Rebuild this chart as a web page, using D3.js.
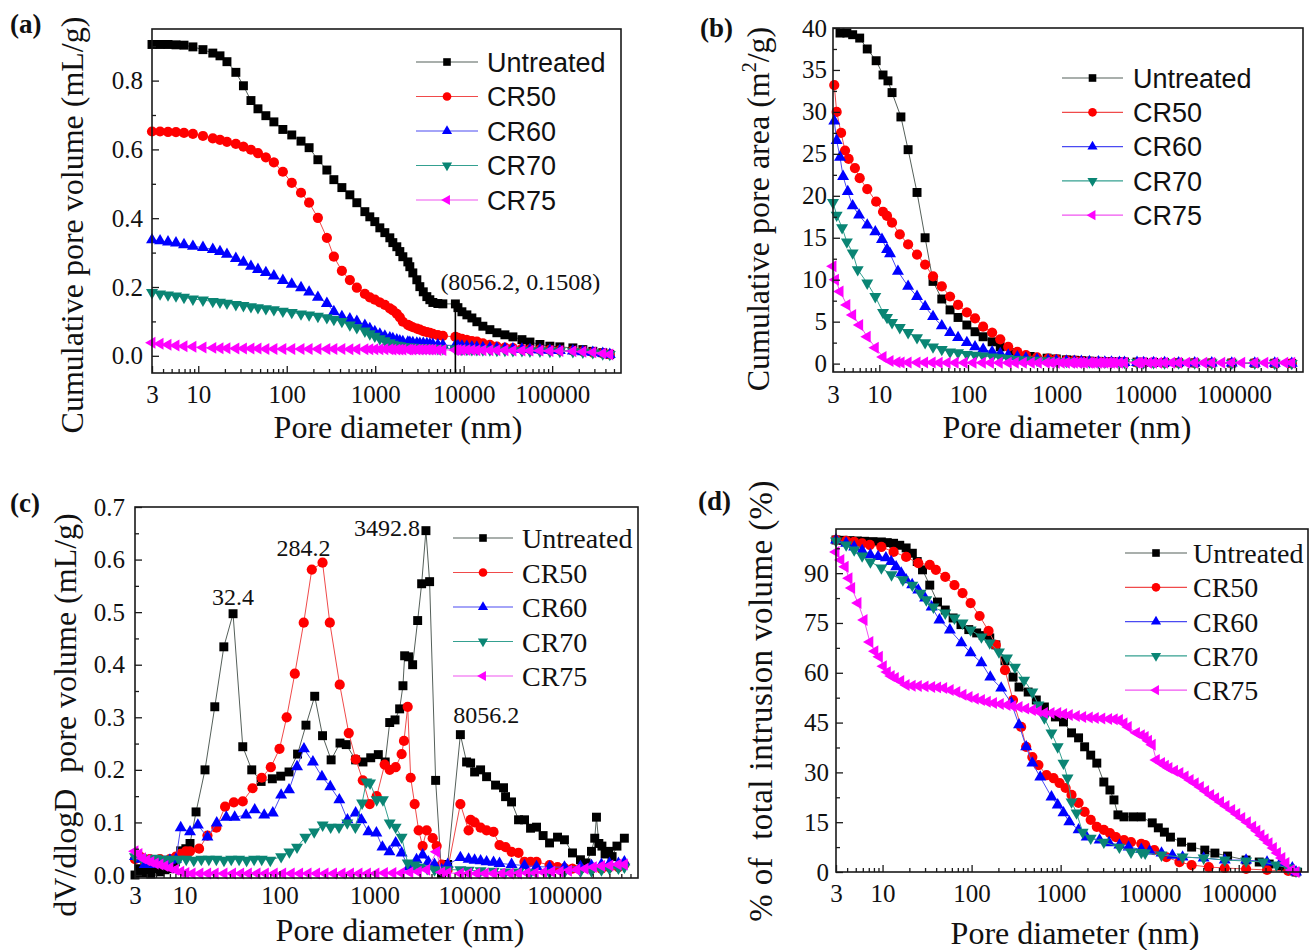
<!DOCTYPE html>
<html>
<head>
<meta charset="utf-8">
<script src="https://cdn.jsdelivr.net/npm/d3@7"></script>
<style>
  html, body { margin: 0; padding: 0; background: #fff; }
  svg { display: block; }
</style>
</head>
<body>
<svg id="fig" width="1312" height="950"></svg>
<script>
// ---------------------------------------------------------------------------
// Shared categories and axis labels
// ---------------------------------------------------------------------------
const SERIES_NAMES = ["Untreated", "CR50", "CR60", "CR70", "CR75"];
const X_TICKS = [3, 10, 100, 1000, 10000, 100000];
const X_TICK_LABELS = ["3", "10", "100", "1000", "10000", "100000"];

// ---------------------------------------------------------------------------
// (a) Cumulative pore volume (mL/g) at each measured pore diameter (nm)
// ---------------------------------------------------------------------------
const DIAM_A = [3.0, 3.7, 4.55, 5.6, 6.9, 8.7, 11.3, 14.6, 17.6, 21.1, 26.6, 32.4, 39.4, 47.3, 58.1, 71.6,
  90.4, 114, 145, 179, 225, 284.2, 341, 420, 517, 620, 764, 869, 990, 1128, 1285, 1463, 1582, 1755,
  1898, 2053, 2338, 2462, 2662, 2955, 3196, 3492.8, 3833, 4146, 4483, 5106, 5817, 8056.2, 8610, 9550,
  10870, 12380, 14100, 16480, 19780, 23730, 29250, 36020, 45560, 56110, 72750, 94290, 122200, 171500,
  222300, 288100, 373400, 448000];
const VOL_UNTREATED = [0.905, 0.905, 0.905, 0.904, 0.903, 0.898, 0.89, 0.88, 0.872, 0.855,
  0.824, 0.785, 0.742, 0.718, 0.698, 0.68, 0.658, 0.642, 0.624, 0.605,
  0.57, 0.54, 0.512, 0.489, 0.468, 0.445, 0.419, 0.404, 0.39, 0.372,
  0.358, 0.343, 0.329, 0.317, 0.303, 0.288, 0.273, 0.259, 0.241, 0.221,
  0.201, 0.186, 0.172, 0.163, 0.155, 0.152, 0.151, 0.1508, 0.14, 0.128,
  0.119, 0.11, 0.099, 0.086, 0.076, 0.067, 0.061, 0.055, 0.047, 0.04,
  0.033, 0.028, 0.026, 0.023, 0.018, 0.013, 0.009, 0.004];
const VOL_CR50 = [0.652, 0.652, 0.651, 0.65, 0.648, 0.645, 0.639, 0.632, 0.628, 0.622,
  0.616, 0.608, 0.599, 0.589, 0.577, 0.562, 0.535, 0.503, 0.474, 0.445,
  0.401, 0.343, 0.288, 0.247, 0.22, 0.198, 0.18, 0.17, 0.163, 0.155,
  0.148, 0.138, 0.132, 0.122, 0.112, 0.099, 0.09, 0.087, 0.083, 0.079,
  0.076, 0.072, 0.069, 0.067, 0.064, 0.06, 0.058, 0.055, 0.052, 0.049,
  0.046, 0.043, 0.041, 0.036, 0.032, 0.027, 0.024, 0.022, 0.02, 0.019,
  0.018, 0.017, 0.016, 0.015, 0.013, 0.01, 0.007, 0.004];
const VOL_CR60 = [0.337, 0.334, 0.331, 0.328, 0.323, 0.318, 0.315, 0.309, 0.303, 0.295,
  0.283, 0.272, 0.26, 0.251, 0.242, 0.232, 0.219, 0.208, 0.198, 0.185,
  0.17, 0.152, 0.128, 0.114, 0.107, 0.1, 0.088, 0.079, 0.07, 0.063,
  0.057, 0.052, 0.05, 0.046, 0.043, 0.041, 0.04, 0.039, 0.038, 0.037,
  0.036, 0.036, 0.035, 0.034, 0.033, 0.032, 0.031, 0.03, 0.029, 0.028,
  0.027, 0.026, 0.025, 0.024, 0.023, 0.022, 0.021, 0.02, 0.019, 0.018,
  0.017, 0.016, 0.015, 0.014, 0.012, 0.01, 0.007, 0.004];
const VOL_CR70 = [0.184, 0.18, 0.177, 0.174, 0.17, 0.165, 0.162, 0.158, 0.156, 0.153,
  0.149, 0.146, 0.143, 0.14, 0.137, 0.134, 0.13, 0.126, 0.122, 0.119,
  0.115, 0.111, 0.106, 0.1, 0.09, 0.082, 0.072, 0.064, 0.057, 0.05,
  0.044, 0.038, 0.034, 0.031, 0.029, 0.027, 0.026, 0.025, 0.025, 0.024,
  0.024, 0.023, 0.023, 0.022, 0.022, 0.021, 0.021, 0.02, 0.02, 0.019,
  0.019, 0.018, 0.018, 0.017, 0.017, 0.016, 0.016, 0.015, 0.015, 0.014,
  0.014, 0.013, 0.013, 0.012, 0.011, 0.009, 0.006, 0.004];
const VOL_CR75 = [0.038, 0.035, 0.032, 0.03, 0.028, 0.026, 0.024, 0.023, 0.022, 0.022,
  0.021, 0.021, 0.021, 0.021, 0.02, 0.02, 0.02, 0.02, 0.02, 0.02,
  0.02, 0.02, 0.02, 0.02, 0.019, 0.019, 0.019, 0.019, 0.019, 0.019,
  0.019, 0.019, 0.018, 0.018, 0.018, 0.018, 0.018, 0.018, 0.018, 0.018,
  0.018, 0.018, 0.018, 0.018, 0.018, 0.017, 0.017, 0.017, 0.017, 0.017,
  0.017, 0.017, 0.016, 0.016, 0.016, 0.016, 0.016, 0.015, 0.015, 0.015,
  0.015, 0.014, 0.014, 0.013, 0.012, 0.01, 0.007, 0.004];
const VOL_MARK = [8056.2, 0.1508];

// ---------------------------------------------------------------------------
// (b) Cumulative pore area (m2/g): [diameter nm, area]
// ---------------------------------------------------------------------------
const AREA_UNTREATED = [[3.6, 39.4], [4.3, 39.4], [5.0, 39.2], [6.0, 38.8], [7.3, 37.5], [9.2, 36.1], [11.0, 34.4],
  [12.5, 33.7], [13.9, 32.3], [17.5, 29.4], [21.1, 25.5], [26.6, 20.4], [32.8, 15.0], [40.3, 9.8], [50.6, 7.7],
  [62.7, 6.4], [77.2, 5.5], [97, 4.6], [120, 3.8], [148, 3.2], [187, 2.6], [231, 2.0], [324, 1.3], [503, 0.85],
  [780, 0.65], [990, 0.55], [1285, 0.45], [1582, 0.4], [1898, 0.35], [2338, 0.3], [2955, 0.27], [3492.8, 0.25],
  [4146, 0.22], [5106, 0.2], [5817, 0.19], [8056.2, 0.18], [9550, 0.16], [12380, 0.14], [16480, 0.12],
  [23730, 0.1], [36020, 0.09], [56110, 0.08], [94290, 0.07], [171500, 0.05], [288100, 0.04], [448000, 0.03]];
const AREA_CR50 = [[3.1, 33.2], [3.3, 30.0], [3.7, 27.5], [4.1, 25.4], [4.5, 24.4], [5.3, 23.3], [6.0, 22.1],
  [7.3, 20.8], [9.2, 19.3], [11.0, 18.1], [12.2, 17.6], [13.9, 16.8], [17.0, 15.4], [21.1, 14.2], [26.6, 13.0],
  [32.8, 11.8], [40.3, 10.4], [50.6, 9.2], [62.7, 8.0], [77.2, 7.0], [97, 6.1], [120, 5.4], [148, 4.4],
  [187, 3.7], [231, 2.9], [284, 2.0], [360, 1.4], [450, 1.0], [600, 0.75], [800, 0.6], [990, 0.5], [1285, 0.4],
  [1582, 0.35], [1898, 0.3], [2338, 0.25], [2955, 0.2], [3492.8, 0.18], [4146, 0.16], [5106, 0.15], [5817, 0.14],
  [8056.2, 0.13], [9550, 0.12], [12380, 0.11], [16480, 0.1], [23730, 0.09], [36020, 0.08], [56110, 0.07],
  [94290, 0.06], [171500, 0.05], [288100, 0.04], [448000, 0.03]];
const AREA_CR60 = [[3.1, 28.9], [3.3, 26.6], [3.6, 24.6], [3.9, 22.3], [4.4, 20.5], [5.0, 18.8], [5.9, 17.7],
  [7.3, 16.5], [9.0, 15.7], [10.7, 14.8], [12.2, 13.6], [13.2, 13.1], [16.2, 11.0], [21.1, 9.2], [26.6, 8.0],
  [32.8, 6.8], [40.3, 5.6], [50.6, 4.5], [62.7, 3.7], [77.2, 3.1], [97, 2.5], [120, 2.0], [148, 1.7], [187, 1.4],
  [231, 1.2], [284, 1.0], [360, 0.8], [450, 0.65], [600, 0.5], [800, 0.4], [990, 0.35], [1285, 0.3], [1582, 0.27],
  [1898, 0.25], [2338, 0.22], [2955, 0.2], [3492.8, 0.18], [4146, 0.16], [5106, 0.15], [5817, 0.14],
  [8056.2, 0.13], [9550, 0.12], [12380, 0.11], [16480, 0.1], [23730, 0.09], [36020, 0.08], [56110, 0.07],
  [94290, 0.06], [171500, 0.05], [288100, 0.04], [448000, 0.03]];
const AREA_CR70 = [[3.0, 19.2], [3.3, 17.7], [3.8, 16.2], [4.3, 14.5], [5.0, 13.2], [5.7, 11.2], [7.3, 9.6],
  [9.0, 8.0], [11.0, 6.1], [12.2, 5.5], [13.9, 4.9], [17.0, 4.3], [21.1, 3.7], [26.6, 3.1], [32.8, 2.5],
  [40.3, 2.0], [50.6, 1.7], [62.7, 1.4], [77.2, 1.3], [97, 1.1], [120, 1.0], [148, 0.9], [187, 0.8], [231, 0.7],
  [284, 0.6], [360, 0.5], [450, 0.45], [600, 0.4], [800, 0.35], [990, 0.3], [1285, 0.27], [1582, 0.25],
  [1898, 0.22], [2338, 0.2], [2955, 0.18], [3492.8, 0.17], [4146, 0.16], [5106, 0.15], [5817, 0.14],
  [8056.2, 0.13], [9550, 0.12], [12380, 0.11], [16480, 0.1], [23730, 0.09], [36020, 0.08], [56110, 0.07],
  [94290, 0.06], [171500, 0.05], [288100, 0.04], [448000, 0.03]];
const AREA_CR75 = [[3.0, 11.6], [3.2, 10.0], [3.6, 8.6], [4.3, 7.0], [5.0, 5.8], [6.0, 4.6], [7.3, 3.2],
  [9.0, 1.9], [11.0, 0.8], [13.2, 0.3], [15.8, 0.15], [17.6, 0.12], [21.1, 0.12], [26.6, 0.12], [32.4, 0.12],
  [39.4, 0.12], [47.3, 0.11], [58.1, 0.11], [71.6, 0.11], [90.4, 0.11], [114, 0.11], [145, 0.11], [179, 0.11],
  [225, 0.11], [284.2, 0.11], [341, 0.11], [420, 0.1], [517, 0.1], [620, 0.1], [764, 0.1], [869, 0.1],
  [990, 0.1], [1128, 0.1], [1285, 0.1], [1463, 0.1], [1582, 0.1], [1755, 0.1], [1898, 0.1], [2053, 0.1],
  [2338, 0.1], [2462, 0.1], [2662, 0.1], [2955, 0.1], [3196, 0.1], [3492.8, 0.1], [3833, 0.1], [4146, 0.1],
  [4483, 0.1], [5106, 0.1], [5817, 0.1], [8056.2, 0.1], [8610, 0.1], [9550, 0.1], [10870, 0.1], [12380, 0.1],
  [14100, 0.1], [16480, 0.1], [19780, 0.1], [23730, 0.1], [29250, 0.1], [36020, 0.1], [45560, 0.1],
  [56110, 0.1], [72750, 0.1], [94290, 0.1], [122200, 0.1], [171500, 0.1], [222300, 0.1], [288100, 0.1],
  [373400, 0.1], [448000, 0.1]];

// ---------------------------------------------------------------------------
// (c) dV/dlogD pore volume (mL/g): [diameter nm, value]
// ---------------------------------------------------------------------------
const DVD_UNTREATED = [[3.0, 0.0], [3.3, 0.012], [3.6, 0.004], [4.0, 0.01], [4.4, 0.002], [4.9, 0.012],
  [5.5, 0.006], [6.2, 0.01], [7.0, 0.012], [8.0, 0.025], [9.1, 0.046], [10.3, 0.05], [11.4, 0.06], [13.2, 0.12],
  [16.4, 0.2], [20.8, 0.32], [25.9, 0.434], [32.4, 0.497], [41, 0.244], [51, 0.2], [64, 0.178], [84, 0.183],
  [103, 0.188], [126, 0.196], [155, 0.23], [190, 0.285], [235, 0.34], [284.2, 0.265], [350, 0.219],
  [434, 0.251], [505, 0.248], [634, 0.219], [758, 0.215], [915, 0.223], [1100, 0.229], [1300, 0.215],
  [1450, 0.29], [1650, 0.295], [1846, 0.316], [2000, 0.36], [2084, 0.417], [2300, 0.415], [2530, 0.4],
  [2858, 0.484], [3148, 0.554], [3492.8, 0.655], [3819, 0.558], [4420, 0.18], [5100, 0.003], [5916, 0.02],
  [8056.2, 0.267], [9370, 0.215], [10330, 0.213], [11380, 0.196], [13160, 0.2], [15220, 0.187],
  [18920, 0.171], [22970, 0.166], [24120, 0.149], [27900, 0.139], [33050, 0.105], [38200, 0.105],
  [44230, 0.089], [51150, 0.091], [60000, 0.075], [70150, 0.061], [85100, 0.072], [100700, 0.067],
  [122400, 0.042], [148500, 0.029], [170000, 0.023], [194000, 0.045], [210000, 0.07], [219000, 0.11],
  [232000, 0.06], [250000, 0.055], [270000, 0.04], [295000, 0.045], [320000, 0.035], [360000, 0.055],
  [431000, 0.07]];
const DVD_CR50 = [[3.0, 0.03], [3.4, 0.035], [3.8, 0.025], [4.3, 0.03], [4.9, 0.028], [5.5, 0.03],
  [6.2, 0.025], [7.0, 0.03], [8.1, 0.035], [9.1, 0.04], [10.3, 0.045], [11.4, 0.045], [14.2, 0.05],
  [17.4, 0.075], [21.6, 0.09], [26.7, 0.13], [33, 0.138], [41, 0.14], [52, 0.165], [65, 0.185], [81, 0.205],
  [100, 0.24], [119, 0.3], [145, 0.383], [180, 0.48], [219, 0.581], [284.2, 0.594], [339, 0.48], [431, 0.362],
  [537, 0.27], [636, 0.22], [755, 0.18], [893, 0.135], [1057, 0.15], [1283, 0.21], [1449, 0.2], [1675, 0.205],
  [1937, 0.23], [2050, 0.255], [2243, 0.32], [2412, 0.185], [2657, 0.135], [2929, 0.085], [3226, 0.055],
  [3557, 0.085], [4113, 0.07], [4532, 0.055], [5119, 0.02], [5916, 0.01], [8056.2, 0.135], [9840, 0.085],
  [10330, 0.105], [11380, 0.1], [13160, 0.09], [15220, 0.085], [18020, 0.082], [20830, 0.057],
  [24120, 0.053], [27900, 0.044], [33050, 0.042], [38200, 0.025], [44230, 0.025], [51150, 0.025],
  [70150, 0.019], [85100, 0.015], [100700, 0.013], [122400, 0.012], [148500, 0.012], [194000, 0.012],
  [247000, 0.012], [300000, 0.015], [373000, 0.015], [431000, 0.02]];
const DVD_CR60 = [[3.0, 0.035], [3.4, 0.03], [3.8, 0.02], [4.3, 0.025], [4.9, 0.02], [5.5, 0.02],
  [6.2, 0.025], [7.0, 0.028], [8.1, 0.03], [9.1, 0.09], [11.4, 0.082], [13.8, 0.095], [17.4, 0.072],
  [21.8, 0.099], [27.5, 0.11], [33.7, 0.11], [44.4, 0.114], [54.8, 0.124], [69, 0.114], [85, 0.118],
  [104, 0.152], [126, 0.162], [153, 0.206], [181, 0.24], [225, 0.215], [280, 0.187], [343, 0.168],
  [427, 0.143], [520, 0.105], [634, 0.118], [730, 0.105], [865, 0.082], [1050, 0.08], [1215, 0.053],
  [1440, 0.044], [1675, 0.061], [1937, 0.042], [2300, 0.015], [2780, 0.029], [3226, 0.038], [3700, 0.025],
  [4300, 0.02], [5119, 0.01], [5916, 0.02], [8056.2, 0.033], [9840, 0.03], [11380, 0.028], [13160, 0.027],
  [15220, 0.025], [18020, 0.024], [20830, 0.022], [27900, 0.02], [38200, 0.018], [51150, 0.016],
  [70150, 0.015], [100700, 0.015], [148500, 0.016], [194000, 0.018], [247000, 0.02], [300000, 0.022],
  [373000, 0.022], [431000, 0.025]];
const DVD_CR70 = [[3.0, 0.035], [3.5, 0.033], [4.2, 0.03], [5.0, 0.032], [6.0, 0.03], [7.2, 0.03],
  [8.7, 0.03], [10.4, 0.03], [12.5, 0.028], [15, 0.03], [18, 0.03], [21.6, 0.03], [26, 0.028], [31, 0.03],
  [37.5, 0.03], [45, 0.028], [54, 0.03], [65, 0.03], [80, 0.028], [104, 0.035], [127, 0.044], [153, 0.053],
  [187, 0.072], [232, 0.082], [285, 0.095], [346, 0.091], [424, 0.091], [518, 0.099], [630, 0.091],
  [742, 0.137], [822, 0.177], [900, 0.175], [1057, 0.143], [1230, 0.143], [1449, 0.099], [1675, 0.091],
  [1937, 0.072], [2243, 0.023], [2657, 0.019], [3000, 0.015], [3600, 0.012], [4300, 0.01], [5119, 0.008],
  [5916, 0.01], [8056.2, 0.01], [9840, 0.009], [13160, 0.008], [18020, 0.007], [24120, 0.006],
  [33050, 0.006], [44230, 0.005], [70150, 0.005], [100700, 0.006], [148500, 0.007], [194000, 0.008],
  [247000, 0.01], [300000, 0.012], [373000, 0.013], [431000, 0.015]];
const DVD_CR75 = [[3.0, 0.045], [3.3, 0.04], [3.6, 0.032], [4.0, 0.028], [4.4, 0.025], [4.9, 0.022],
  [5.5, 0.02], [6.2, 0.017], [7.0, 0.014], [8.0, 0.01], [9.1, 0.006], [10.3, 0.004], [12, 0.003], [14.5, 0.003],
  [17.5, 0.003], [21, 0.003], [26, 0.003], [32, 0.003], [39, 0.003], [47, 0.003], [58, 0.003], [71, 0.003],
  [88, 0.003], [108, 0.003], [133, 0.003], [163, 0.003], [200, 0.003], [246, 0.003], [302, 0.003],
  [371, 0.003], [456, 0.003], [560, 0.003], [688, 0.003], [845, 0.003], [1038, 0.003], [1275, 0.004],
  [1566, 0.004], [1923, 0.004], [2362, 0.005], [2900, 0.006], [3560, 0.01], [4530, 0.044], [5119, 0.005],
  [5916, 0.004], [8056.2, 0.003], [9840, 0.003], [12000, 0.003], [14700, 0.003], [18000, 0.003],
  [22000, 0.003], [27000, 0.003], [33000, 0.003], [40500, 0.004], [49500, 0.004], [60500, 0.005],
  [74000, 0.006], [90500, 0.006], [111000, 0.008], [136000, 0.01], [166000, 0.012], [203000, 0.015],
  [248000, 0.017], [303000, 0.018], [371000, 0.02], [431000, 0.02]];
const DVD_LABELS = [
  { text: "32.4", d: 32.4, v: 0.497, dx: 0, dy: -9, anchor: "middle" },
  { text: "284.2", d: 284.2, v: 0.594, dx: -19, dy: -7, anchor: "middle" },
  { text: "3492.8", d: 3492.8, v: 0.655, dx: -6, dy: 5, anchor: "end" },
  { text: "8056.2", d: 8056.2, v: 0.267, dx: 26, dy: -12, anchor: "middle" }
];

// ---------------------------------------------------------------------------
// (d) % of total intrusion volume: [diameter nm, percent]
// ---------------------------------------------------------------------------
const PCT_UNTREATED = [[3.0, 100], [3.6, 99.9], [4.3, 99.8], [5.2, 99.7], [6.3, 99.6], [7.8, 99.5],
  [9.7, 99.4], [11.3, 99.2], [13.3, 99.0], [15.6, 98.4], [18.4, 97.6], [21.6, 96.0], [24.5, 93.5],
  [28.1, 91.0], [33.9, 86.4], [41.4, 81.3], [50.6, 78.9], [62, 76.5], [76, 74.5], [93, 73.0], [114, 72.0],
  [135, 71.2], [160, 70.5], [187, 68.4], [237, 63.6], [292, 58.7], [341, 55.7], [432, 54.2], [533, 51.8],
  [657, 49.7], [873, 46.7], [1076, 45.2], [1326, 41.9], [1590, 40.4], [1860, 37.7], [2177, 35.2],
  [2548, 32.8], [3056, 27.1], [3580, 24.7], [3970, 21.7], [4400, 17.2], [5150, 16.6], [6530, 16.6],
  [8056.2, 16.6], [10690, 14.8], [12500, 13.3], [14630, 12.0], [17120, 10.5], [22800, 9.0], [29600, 7.5],
  [41600, 6.6], [54000, 5.7], [75000, 4.8], [121000, 3.6], [170000, 3.0], [220000, 2.4], [290000, 1.6],
  [370000, 0.8], [440000, 0.0]];
const PCT_CR50 = [[3.0, 100], [3.9, 99.7], [4.8, 99.4], [5.9, 99.0], [7.2, 98.5], [9.7, 97.9], [13.3, 96.4],
  [18.4, 94.9], [25.2, 93], [33.9, 92.5], [39.7, 91], [50.6, 88.9], [64.2, 86.4], [79.1, 84], [97.5, 81],
  [123, 77.1], [155, 72.6], [187, 68.4], [237, 60.8], [292, 51.8], [360, 43.7], [410, 37.7], [481, 34.6],
  [563, 32.2], [694, 29.2], [832, 28.3], [973, 26.8], [1138, 25.3], [1326, 23.2], [1590, 20.8], [1860, 18.1],
  [2177, 15.7], [2548, 13.6], [3056, 12.7], [3580, 11.7], [4180, 10.5], [5150, 9.6], [6170, 9.0],
  [8056.2, 8.5], [8900, 8.1], [11270, 6.6], [15400, 4.5], [21600, 3.0], [29600, 2.1], [46100, 1.5],
  [69700, 1.2], [121000, 0.9], [208000, 0.6], [360000, 0.3], [440000, 0.0]];
const PCT_CR60 = [[3.0, 100], [3.9, 99], [4.8, 97.9], [5.9, 96.8], [7.3, 95.5], [8.9, 95], [10.9, 94.6],
  [12.5, 93.5], [14.2, 91.9], [16.2, 90], [18.4, 88], [21.5, 86.5], [25.2, 84.9], [30, 82.5], [35.6, 79.8],
  [43.5, 75.9], [57, 72.9], [76.8, 69], [97.5, 66], [129, 63], [162, 58.7], [215, 55.4], [279, 50.9],
  [341, 44.3], [410, 37.7], [481, 32.8], [590, 28.6], [789, 22.6], [927, 20.2], [1076, 17.8], [1251, 15.1],
  [1590, 12.7], [1960, 10.5], [2740, 9.6], [3500, 8.8], [4570, 8.1], [5800, 7.5], [8056.2, 6.8],
  [10000, 6.3], [13580, 5.7], [18000, 5.0], [23410, 4.5], [40350, 4.2], [69700, 3.6], [121000, 3.6],
  [208000, 3.0], [293000, 2.7], [400000, 1.2], [440000, 0]];
const PCT_CR70 = [[3.0, 99.7], [3.9, 98.5], [4.8, 97], [5.9, 95.2], [7.3, 93.4], [9.7, 91.6], [12.6, 89.5],
  [16.9, 88], [21.6, 86.4], [26.7, 84], [31, 82], [37.3, 79.8], [50.6, 78], [64.2, 76.5], [79.1, 75],
  [97.5, 72.9], [129, 70.8], [160, 69], [203, 66.3], [250, 64.5], [307, 61.7], [389, 57.8], [481, 54.2],
  [563, 50.3], [657, 46.4], [789, 41.9], [927, 37.7], [1076, 32.8], [1196, 28.3], [1326, 21.1], [1510, 17.8],
  [1768, 12.0], [2177, 10.2], [3056, 9.0], [4570, 7.5], [6170, 6.0], [8056.2, 5.9], [8900, 5.7],
  [13580, 5.1], [23410, 4.5], [40350, 4.2], [69700, 3.6], [121000, 3.3], [188000, 3.0], [265000, 2.1],
  [360000, 1.2], [440000, 0.3]];
const PCT_CR75 = [[3.0, 96.4], [3.4, 94], [3.8, 91.9], [4.2, 88.5], [4.5, 85.5], [5.3, 81], [6.2, 75.9],
  [7.2, 69.3], [8.2, 66.5], [9.2, 64.8], [10.2, 62], [11.3, 60.2], [12.5, 59], [13.9, 58.4], [16, 57.5],
  [18.4, 56.3], [21.5, 56.1], [25.2, 56], [30, 55.9], [35.6, 55.7], [41.5, 55.6], [48.6, 55.4], [57.5, 54.8],
  [68.2, 54.2], [80, 53.4], [93.6, 52.7], [110, 52.2], [129, 51.8], [150, 51.3], [176, 50.9], [210, 50.6],
  [250, 50.3], [290, 50], [341, 49.7], [405, 49.2], [481, 48.8], [560, 48.4], [657, 47.9], [780, 47.9],
  [927, 47.9], [1080, 47.6], [1251, 47.3], [1500, 47], [1768, 46.7], [2100, 46.5], [2450, 46.4],
  [2900, 46.2], [3460, 46.1], [4000, 46], [4570, 45.8], [5150, 44.8], [5740, 43.7], [7100, 41.9],
  [8056.2, 41.2], [8900, 40.7], [9700, 39.5], [10690, 38.3], [11860, 33.7], [13580, 32.8], [15000, 32],
  [16450, 31.3], [19000, 30.5], [21830, 29.8], [25000, 28.8], [28460, 27.7], [32500, 26.7], [37100, 25.6],
  [42500, 24.4], [48440, 23.2], [55000, 22.2], [62520, 21.1], [72000, 19.9], [83310, 18.7], [95000, 17.5],
  [108100, 16.3], [125000, 15.0], [143500, 13.6], [160000, 12.4], [178000, 11.1], [198000, 9.9],
  [219000, 8.7], [245000, 7.2], [272000, 5.7], [305000, 4.2], [339000, 2.7], [392000, 0.6], [440000, 0]];

// ---------------------------------------------------------------------------
// Styling
// ---------------------------------------------------------------------------
const SERIF = "'Liberation Serif','Times New Roman',Times,serif";
const SANS = "'Liberation Sans',Arial,Helvetica,sans-serif";
const STYLE = {
  Untreated: { shape: "square", fill: "#000000", line: "#55605a" },
  CR50: { shape: "circle", fill: "#ff0000", line: "#f04a4a" },
  CR60: { shape: "up", fill: "#0000ff", line: "#4a4af2" },
  CR70: { shape: "down", fill: "#0a8574", line: "#34a090" },
  CR75: { shape: "left", fill: "#ff00ff", line: "#f055f0" }
};
const ROTATE = { square: 0, circle: 0, up: 0, down: 180, left: -90 };

function markerPath(shape, k) {
  if (shape === "square") return d3.symbol(d3.symbolSquare, 80 * k * k)();
  if (shape === "circle") return d3.symbol(d3.symbolCircle, 82 * k * k)();
  return d3.symbol(d3.symbolTriangle, 62 * k * k)();
}

const pairs = (xs, ys) => xs.map((d, i) => [d, ys[i]]);

// minor log ticks (2..9 per decade) between 3 and 600000
const X_MINOR = [];
[1, 10, 100, 1000, 10000, 100000].forEach(dec => {
  for (let m = 2; m <= 9; m++) {
    const v = m * dec;
    if (v > 3 && v < 600000) X_MINOR.push(v);
  }
});

const svg = d3.select("#fig");
svg.append("rect").attr("width", 1312).attr("height", 950).attr("fill", "#fff");

const PANELS = [
  {
    tag: "(a)", tagX: 10, tagY: 33,
    left: 152, top: 29, right: 621, bottom: 373,
    yDomain: [-0.05, 0.95], yMajor: [0, 0.2, 0.4, 0.6, 0.8], yMinor: [0.1, 0.3, 0.5, 0.7, 0.9],
    yFmt: d3.format(".1f"), xPad: 12, yPad: 9,
    xTitle: { text: "Pore diameter (nm)", x: 398, y: 438 },
    yTitle: { parts: [["Cumulative pore volume (mL/g)"]], x: 83, y: 225, size: 32 },
    legend: { font: SANS, size: 27, x1: 416, x2: 478, tx: 487, y0: 62, dy: 34.5 },
    series: [pairs(DIAM_A, VOL_UNTREATED), pairs(DIAM_A, VOL_CR50), pairs(DIAM_A, VOL_CR60),
             pairs(DIAM_A, VOL_CR70), pairs(DIAM_A, VOL_CR75)],
    extra: "mark"
  },
  {
    tag: "(b)", tagX: 700, tagY: 37,
    left: 833, top: 28, right: 1303, bottom: 372,
    yDomain: [-1, 40], yMajor: [0, 5, 10, 15, 20, 25, 30, 35, 40], yMinor: [2.5, 7.5, 12.5, 17.5, 22.5, 27.5, 32.5, 37.5],
    yFmt: d3.format("d"), xPad: 13, yPad: 6,
    xTitle: { text: "Pore diameter (nm)", x: 1067, y: 438 },
    yTitle: { parts: "area", x: 769, y: 209, size: 32 },
    legend: { font: SANS, size: 27, x1: 1062, x2: 1123, tx: 1133, y0: 78, dy: 34.3 },
    series: [AREA_UNTREATED, AREA_CR50, AREA_CR60, AREA_CR70, AREA_CR75]
  },
  {
    tag: "(c)", tagX: 10, tagY: 512,
    left: 135, top: 507, right: 638, bottom: 878,
    yDomain: [-0.0057, 0.7], yMajor: [0, 0.1, 0.2, 0.3, 0.4, 0.5, 0.6, 0.7], yMinor: [0.05, 0.15, 0.25, 0.35, 0.45, 0.55, 0.65],
    yFmt: d3.format(".1f"), xPad: 8, yPad: 10,
    xTitle: { text: "Pore diameter (nm)", x: 400, y: 941 },
    yTitle: { parts: [["dV/dlogD\u00a0\u00a0pore volume (mL/g)"]], x: 76, y: 715, size: 32 },
    legend: { font: SERIF, size: 28, x1: 453, x2: 513, tx: 522, y0: 538, dy: 34.5 },
    series: [DVD_UNTREATED, DVD_CR50, DVD_CR60, DVD_CR70, DVD_CR75],
    extra: "peaks"
  },
  {
    tag: "(d)", tagX: 698, tagY: 510,
    left: 836, top: 529, right: 1308, bottom: 872,
    yDomain: [0, 103.3], yMajor: [0, 15, 30, 45, 60, 75, 90], yMinor: [7.5, 22.5, 37.5, 52.5, 67.5, 82.5, 97.5],
    yFmt: d3.format("d"), xPad: 12, yPad: 7,
    xTitle: { text: "Pore diameter (nm)", x: 1075, y: 944 },
    yTitle: { parts: [["% of  total intrusion volume (%)"]], x: 772, y: 701, size: 33, spacing: 0.4 },
    legend: { font: SERIF, size: 28, x1: 1125, x2: 1187, tx: 1193, y0: 553, dy: 34.3 },
    series: [PCT_UNTREATED, PCT_CR50, PCT_CR60, PCT_CR70, PCT_CR75]
  }
];

function drawPanel(p) {
  const x = d3.scaleLog().domain([3, 600000]).range([p.left, p.right]);
  const y = d3.scaleLinear().domain(p.yDomain).range([p.bottom, p.top]);
  const g = svg.append("g");

  // data: connecting line then markers, series by series
  p.series.forEach((data, i) => {
    const st = STYLE[SERIES_NAMES[i]];
    g.append("path")
      .datum(data)
      .attr("d", d3.line().x(d => x(d[0])).y(d => y(d[1])))
      .attr("fill", "none")
      .attr("stroke", st.line)
      .attr("stroke-width", 1);
    g.append("g").selectAll("path")
      .data(data)
      .join("path")
      .attr("d", markerPath(st.shape, 1))
      .attr("transform", d => `translate(${x(d[0])},${y(d[1])}) rotate(${ROTATE[st.shape]})`)
      .attr("fill", st.fill);
  });

  // axes (ticks pointing inward)
  const styleAxis = sel => {
    sel.select(".domain").remove();
    sel.selectAll("line").attr("stroke", "#1a1a1a").attr("stroke-width", 1.3);
    sel.selectAll("text").attr("font-family", SERIF).attr("font-size", 25).attr("fill", "#111");
  };
  g.append("g").attr("transform", `translate(0,${p.bottom})`)
    .call(d3.axisBottom(x).tickValues(X_TICKS).tickFormat((d, i) => X_TICK_LABELS[i]).tickSize(-7).tickPadding(p.xPad))
    .call(styleAxis);
  g.append("g").attr("transform", `translate(0,${p.bottom})`)
    .call(d3.axisBottom(x).tickValues(X_MINOR).tickFormat("").tickSize(-4))
    .call(styleAxis);
  g.append("g").attr("transform", `translate(${p.left},0)`)
    .call(d3.axisLeft(y).tickValues(p.yMajor).tickFormat(p.yFmt).tickSize(-7).tickPadding(p.yPad))
    .call(styleAxis);
  g.append("g").attr("transform", `translate(${p.left},0)`)
    .call(d3.axisLeft(y).tickValues(p.yMinor).tickFormat("").tickSize(-4))
    .call(styleAxis);

  // frame
  g.append("rect")
    .attr("x", p.left).attr("y", p.top)
    .attr("width", p.right - p.left).attr("height", p.bottom - p.top)
    .attr("fill", "none").attr("stroke", "#1a1a1a").attr("stroke-width", 1.6);

  // axis titles
  g.append("text")
    .attr("x", p.xTitle.x).attr("y", p.xTitle.y)
    .attr("text-anchor", "middle")
    .attr("font-family", SERIF).attr("font-size", 32).attr("fill", "#111")
    .text(p.xTitle.text);

  const yt = g.append("text")
    .attr("transform", `translate(${p.yTitle.x},${p.yTitle.y}) rotate(-90)`)
    .attr("text-anchor", "middle")
    .attr("font-family", SERIF).attr("font-size", p.yTitle.size).attr("fill", "#111")
    .style("white-space", "pre");
  if (p.yTitle.spacing) yt.attr("letter-spacing", p.yTitle.spacing);
  if (p.yTitle.parts === "area") {
    yt.append("tspan").text("Cumulative pore area (m");
    yt.append("tspan").attr("font-size", 20).attr("dy", -13).text("2");
    yt.append("tspan").attr("dy", 13).text("/g)");
  } else {
    yt.text(p.yTitle.parts[0][0]);
  }

  // panel tag
  svg.append("text")
    .attr("x", p.tagX).attr("y", p.tagY)
    .attr("font-family", SERIF).attr("font-weight", "bold").attr("font-size", 27).attr("fill", "#111")
    .text(p.tag);

  // legend
  const L = p.legend;
  SERIES_NAMES.forEach((name, i) => {
    const st = STYLE[name];
    const cy = L.y0 + i * L.dy;
    g.append("line")
      .attr("x1", L.x1).attr("x2", L.x2).attr("y1", cy).attr("y2", cy)
      .attr("stroke", st.line).attr("stroke-width", 1.2);
    g.append("path")
      .attr("d", markerPath(st.shape, 0.85))
      .attr("transform", `translate(${(L.x1 + L.x2) / 2},${cy}) rotate(${ROTATE[st.shape]})`)
      .attr("fill", st.fill);
    g.append("text")
      .attr("x", L.tx).attr("y", cy).attr("dy", "0.36em")
      .attr("font-family", L.font).attr("font-size", L.size).attr("fill", "#111")
      .text(name);
  });

  // annotations
  if (p.extra === "mark") {
    const px = x(VOL_MARK[0]), py = y(VOL_MARK[1]);
    g.append("line")
      .attr("x1", px).attr("x2", px).attr("y1", py).attr("y2", p.bottom)
      .attr("stroke", "#000").attr("stroke-width", 1.6);
    g.append("text")
      .attr("x", px - 15).attr("y", py - 14)
      .attr("font-family", SERIF).attr("font-size", 24).attr("fill", "#111")
      .text(`(${VOL_MARK[0]}, ${VOL_MARK[1]})`);
  }
  if (p.extra === "peaks") {
    DVD_LABELS.forEach(l => {
      g.append("text")
        .attr("x", x(l.d) + l.dx).attr("y", y(l.v) + l.dy)
        .attr("text-anchor", l.anchor)
        .attr("font-family", SERIF).attr("font-size", 24).attr("fill", "#111")
        .text(l.text);
    });
  }
}

PANELS.forEach(drawPanel);
</script>
</body>
</html>
